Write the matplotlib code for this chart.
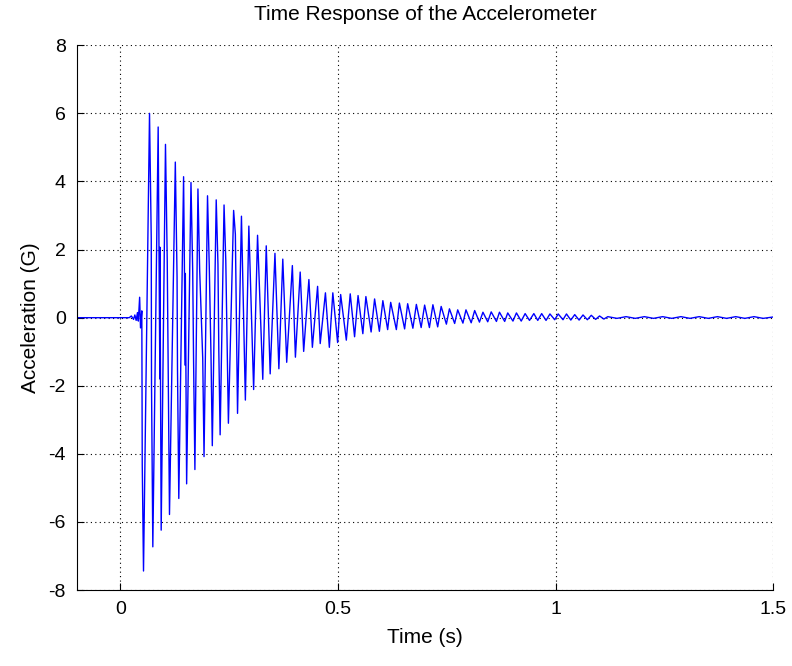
import numpy as np
import matplotlib
matplotlib.use("Agg")
import matplotlib.pyplot as plt

plt.rcParams['font.family'] = ['Liberation Sans', 'DejaVu Sans']
plt.rcParams['axes.unicode_minus'] = False

# quiet signal before the impact and first small wiggles
onset_t = [-0.1, 0.020, 0.025, 0.030, 0.033, 0.036, 0.039, 0.041, 0.044, 0.046, 0.049]
onset_a = [0.0, 0.0, 0.05, -0.05, 0.08, -0.08, 0.15, -0.10, 0.60, -0.30, 0.20]

# negative peaks (s, G)
neg_t = [0.0529, 0.0743, 0.0935, 0.1126, 0.134, 0.152, 0.171, 0.192, 0.211, 0.229,
         0.248, 0.269, 0.287, 0.306, 0.327, 0.344, 0.364, 0.382, 0.402, 0.421,
         0.441, 0.459, 0.480, 0.499, 0.519, 0.538, 0.557, 0.576, 0.595, 0.614,
         0.634, 0.653, 0.672, 0.691, 0.710, 0.729, 0.749, 0.768, 0.787, 0.806,
         0.825, 0.844, 0.864, 0.883, 0.902, 0.921, 0.940, 0.959, 0.978, 0.998, 1.017]
neg_a = [-7.44, -6.73, -6.24, -5.78, -5.31, -4.88, -4.46, -4.08, -3.76, -3.44,
         -3.10, -2.81, -2.42, -2.11, -1.81, -1.65, -1.50, -1.31, -1.16, -0.99,
         -0.87, -0.76, -0.87, -0.73, -0.66, -0.56, -0.47, -0.42, -0.40, -0.35,
         -0.35, -0.33, -0.31, -0.29, -0.29, -0.27, -0.19, -0.17, -0.16, -0.15,
         -0.13, -0.12, -0.11, -0.11, -0.10, -0.10, -0.08, -0.08, -0.08, -0.06, -0.06]

# positive peaks (s, G)
pos_t = [0.0667, 0.0866, 0.1034, 0.126, 0.145, 0.162, 0.178, 0.200, 0.220, 0.238,
         0.260, 0.278, 0.295, 0.315, 0.335, 0.355, 0.373, 0.395, 0.413, 0.433,
         0.453, 0.471, 0.488, 0.506, 0.528, 0.546, 0.564, 0.584, 0.603, 0.621,
         0.641, 0.660, 0.680, 0.699, 0.718, 0.737, 0.756, 0.775, 0.794, 0.814,
         0.833, 0.852, 0.871, 0.890, 0.910, 0.930, 0.950, 0.968, 0.987, 1.006, 1.025]
pos_a = [6.00, 5.60, 5.09, 4.57, 4.14, 3.97, 3.78, 3.58, 3.46, 3.31,
         3.15, 2.98, 2.69, 2.42, 2.11, 1.89, 1.72, 1.53, 1.34, 1.12,
         0.92, 0.73, 0.73, 0.68, 0.70, 0.65, 0.62, 0.55, 0.50, 0.45,
         0.43, 0.41, 0.39, 0.37, 0.38, 0.33, 0.26, 0.23, 0.23, 0.21,
         0.16, 0.17, 0.16, 0.14, 0.14, 0.12, 0.12, 0.12, 0.11, 0.11, 0.11]

# shoulders seen just after the early positive peaks
shoulder_t = [0.0707, 0.0906, 0.1074, 0.130, 0.149, 0.166, 0.182, 0.204, 0.224, 0.242, 0.264]
shoulder_a = [2.30, 2.07, 1.70, 1.20, 1.30, 1.33, 1.38, 1.52, 1.57, 1.67, 2.45]

# shoulders on the way down to the early negative peaks
dip_t = [0.0500, 0.0713, 0.0905, 0.1096, 0.131, 0.149, 0.168, 0.189, 0.208, 0.226]
dip_a = [-4.30, -2.00, -1.80, -1.60, -1.50, -1.40, -1.30, -1.20, -1.10, -1.00]

# residual ripple after 1 s
tail_t = [1.035, 1.044, 1.054, 1.063, 1.073, 1.082, 1.092, 1.101, 1.111, 1.120,
          1.141, 1.162, 1.183, 1.204, 1.225, 1.246, 1.267, 1.288, 1.309, 1.330,
          1.351, 1.372, 1.393, 1.414, 1.435, 1.456, 1.477, 1.500]
tail_a = [-0.07, 0.09, -0.07, 0.08, -0.06, 0.07, -0.05, 0.05, -0.04, 0.03,
          -0.02, 0.03, -0.02, 0.03, -0.02, 0.03, -0.02, 0.03, -0.02, 0.03,
          -0.02, 0.03, -0.02, 0.03, -0.02, 0.03, -0.02, 0.02]

t = np.concatenate([onset_t, neg_t, pos_t, shoulder_t, dip_t, tail_t])
a = np.concatenate([onset_a, neg_a, pos_a, shoulder_a, dip_a, tail_a])
order = np.argsort(t)
t, a = t[order], a[order]

fig = plt.figure(figsize=(7.92, 6.66), dpi=100)
ax = fig.add_axes([0.0972, 0.114, 0.879, 0.818])
ax.plot(t, a, color=(0, 0, 1), lw=1.0)

ax.set_xlim(-0.1, 1.5)
ax.set_ylim(-8, 8)
ax.set_xticks([0, 0.5, 1, 1.5])
ax.set_xticklabels(['0', '0.5', '1', '1.5'])
ax.set_yticks(np.arange(-8, 9, 2))
ax.grid(True, color='k', linestyle=(0, (1, 3)), lw=0.8)
ax.spines['top'].set_visible(False)
ax.spines['right'].set_visible(False)
ax.tick_params(direction='in', length=5, labelsize=14, pad=8)

ax.set_title('Time Response of the Accelerometer', fontsize=15, pad=18)
ax.set_xlabel('Time (s)', fontsize=15, labelpad=7)
ax.set_ylabel('Acceleration (G)', fontsize=15, labelpad=6)

fig.savefig('out.png', dpi=100)
